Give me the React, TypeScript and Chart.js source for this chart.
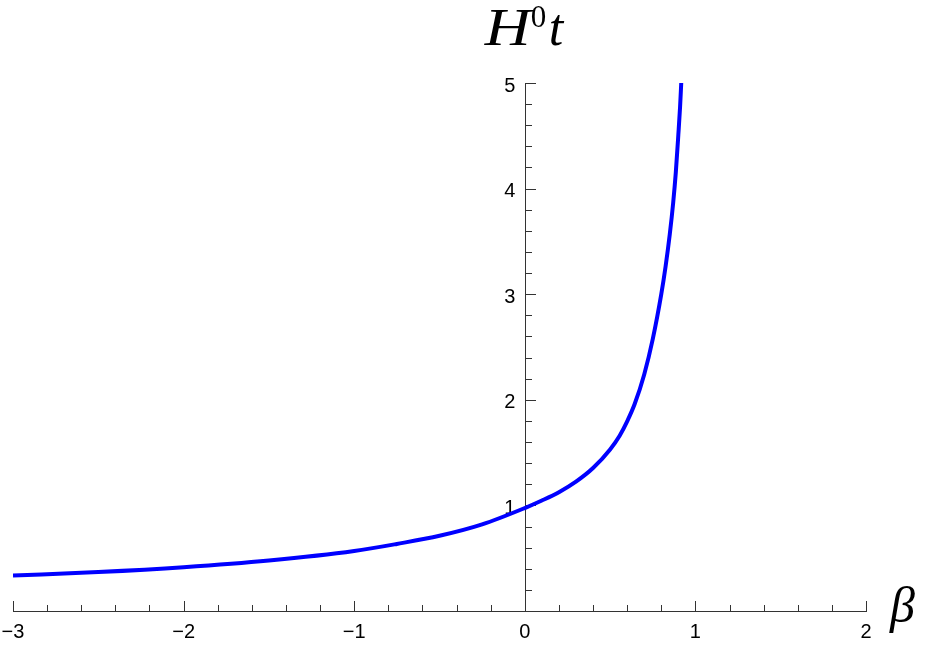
import React, { useEffect, useRef } from 'react';
import { Chart, registerables } from 'chart.js';
Chart.register(...registerables);

// Data
const betaValues = [-3.0, -2.5, -2.0, -1.5, -1.0, -0.75, -0.5, -0.25, 0.0, 0.1, 0.2, 0.3, 0.4, 0.5, 0.556, 0.6, 0.644, 0.7, 0.75, 0.8, 0.825, 0.85, 0.87, 0.885, 0.9, 0.91, 0.917];
const h0tValues = [0.335, 0.369, 0.415, 0.478, 0.568, 0.635, 0.712, 0.82, 0.975, 1.046, 1.125, 1.225, 1.354, 1.53, 1.66, 1.796, 1.96, 2.24, 2.574, 3.0, 3.26, 3.57, 3.87, 4.15, 4.51, 4.77, 5.0];

const xTicks = [-3, -2, -1, 0, 1, 2];
const yTicks = [1, 2, 3, 4, 5];
const xMin = -3, xMax = 2, yMin = 0, yMax = 5;
const minorStep = 0.2;

const AXIS_COLOR = '#333333';
const SERIF = '"Liberation Serif", "DejaVu Serif", serif';

const axesPlugin = {
  id: 'mmaAxes',
  beforeDatasetsDraw(chart: any) {
    const { ctx, scales } = chart;
    const xs = scales.x, ys = scales.y;
    const y0 = Math.round(ys.getPixelForValue(0));
    const x0 = Math.round(xs.getPixelForValue(0));
    ctx.save();
    ctx.strokeStyle = AXIS_COLOR;
    ctx.lineWidth = 1;
    // x axis
    ctx.beginPath();
    ctx.moveTo(Math.round(xs.getPixelForValue(xMin)), y0 + 0.5);
    ctx.lineTo(Math.round(xs.getPixelForValue(xMax)) + 1, y0 + 0.5);
    ctx.stroke();
    // y axis
    ctx.beginPath();
    ctx.moveTo(x0 + 0.5, y0);
    ctx.lineTo(x0 + 0.5, Math.round(ys.getPixelForValue(yMax)));
    ctx.stroke();
    // x ticks (pointing up)
    const nx = Math.round((xMax - xMin) / minorStep);
    for (let i = 0; i <= nx; i++) {
      const v = xMin + i * minorStep;
      if (Math.abs(v) < 1e-9) continue;
      const major = Math.abs(v - Math.round(v)) < 1e-9;
      const px = Math.round(xs.getPixelForValue(v)) + 0.5;
      ctx.beginPath();
      ctx.moveTo(px, y0 + 0.5);
      ctx.lineTo(px, y0 - (major ? 10 : 6));
      ctx.stroke();
    }
    // y ticks (pointing right)
    const ny = Math.round((yMax - yMin) / minorStep);
    for (let i = 1; i <= ny; i++) {
      const v = yMin + i * minorStep;
      const major = Math.abs(v - Math.round(v)) < 1e-9;
      const py = Math.round(ys.getPixelForValue(v)) + 0.5;
      ctx.beginPath();
      ctx.moveTo(x0 + 0.5, py);
      ctx.lineTo(x0 + (major ? 11 : 7), py);
      ctx.stroke();
    }
    ctx.restore();
  },
  afterDraw(chart: any) {
    const { ctx, scales } = chart;
    const xs = scales.x, ys = scales.y;
    const x0 = xs.getPixelForValue(0);
    ctx.save();
    ctx.fillStyle = '#000';
    ctx.textBaseline = 'alphabetic';
    ctx.textAlign = 'left';
    // Title H^0 t
    const italic = `italic 52px ${SERIF}`;
    const upright = `31px ${SERIF}`;
    const base = 45;
    ctx.font = italic;
    ctx.save();
    ctx.translate(x0 - 40, base);
    ctx.scale(1.22, 1);
    ctx.fillText('H', 0, 0);
    ctx.restore();
    ctx.font = upright;
    ctx.fillText('0', x0 + 6, base - 18);
    ctx.font = italic;
    ctx.fillText('t', x0 + 24, base);
    // beta label
    ctx.font = `italic 50px ${SERIF}`;
    ctx.fillText('β', xs.getPixelForValue(xMax) + 24, ys.getPixelForValue(0) + 11);
    ctx.restore();
  },
};

export default function App() {
  const ref = useRef<HTMLCanvasElement>(null);
  useEffect(() => {
    if (!ref.current) return;
    const data = betaValues.map((b, i) => ({ x: b, y: h0tValues[i] }));
    const chart = new Chart(ref.current, {
      type: 'line',
      data: {
        datasets: [{
          data,
          borderColor: '#0000ff',
          borderWidth: 4,
          pointRadius: 0,
          fill: false,
          cubicInterpolationMode: 'monotone',
        }],
      },
      options: {
        animation: false,
        responsive: false,
        devicePixelRatio: 1,
        layout: { padding: { left: 13, right: 60, top: 83, bottom: -8 } },
        plugins: { legend: { display: false }, tooltip: { enabled: false }, title: { display: false } },
        scales: {
          x: {
            type: 'linear',
            min: xMin,
            max: xMax,
            position: 'bottom',
            afterBuildTicks: (axis: any) => { axis.ticks = xTicks.map((v) => ({ value: v })); },
            afterFit: (axis: any) => { axis.paddingLeft = 0; axis.paddingRight = 0; },
            grid: { display: false, drawTicks: false },
            border: { display: false },
            ticks: {
              padding: 9,
              color: '#000',
              font: { family: '"Liberation Sans", Arial, sans-serif', size: 20 },
              maxRotation: 0,
              callback: (v: any) => (v < 0 ? '\u2212' + Math.abs(v) : String(v)),
            },
          },
          y: {
            type: 'linear',
            min: yMin,
            max: yMax,
            position: { x: -0.055 } as any,
            afterBuildTicks: (axis: any) => { axis.ticks = yTicks.map((v) => ({ value: v })); },
            grid: { display: false, drawTicks: false },
            border: { display: false },
            ticks: {
              padding: 0,
              labelOffset: 3,
              color: '#000',
              font: { family: '"Liberation Sans", Arial, sans-serif', size: 20 },
              callback: (v: any) => String(v),
            },
          },
        },
      },
      plugins: [axesPlugin],
    });
    return () => chart.destroy();
  }, []);
  return (
    <div style={{ position: 'fixed', left: 0, top: 0, width: 926, height: 645, background: '#fff' }}>
      <canvas ref={ref} width={926} height={645} style={{ display: 'block' }} />
    </div>
  );
}
